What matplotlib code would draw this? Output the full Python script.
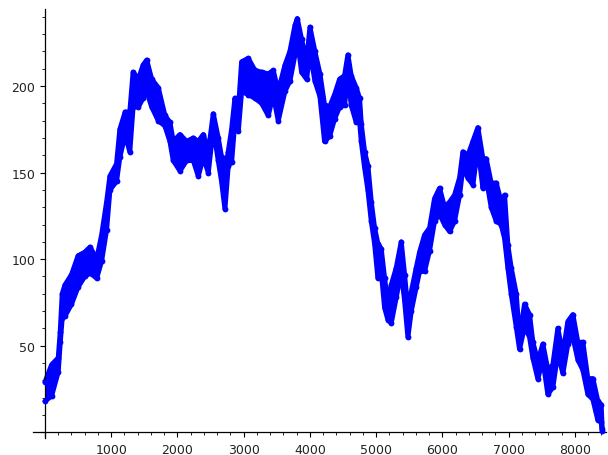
"""Random-walk style point plot, drawn in the look of a Sage list_plot."""

import matplotlib

matplotlib.use("Agg")
import matplotlib.pyplot as plt
import numpy as np
from matplotlib.ticker import MultipleLocator


# step index where the band was read, and its lower / upper edge (point centres)
steps = [
    0, 100, 200, 230, 260, 300, 400, 500, 600, 680, 780, 855, 930, 980,
    1080, 1130, 1210, 1280, 1330, 1410, 1480, 1535, 1610, 1710, 1810, 1886,
    1936, 2037, 2138, 2238, 2314, 2390, 2465, 2540, 2615, 2665, 2716, 2766,
    2817, 2867, 2918, 2968, 3068, 3169, 3270, 3370, 3445, 3521, 3622, 3697,
    3773, 3808, 3873, 3949, 3999, 4074, 4150, 4220, 4296, 4371, 4447, 4522,
    4572, 4622, 4698, 4748, 4774, 4824, 4874, 4925, 4975, 5025, 5075, 5126,
    5176, 5226, 5302, 5377, 5428, 5478, 5528, 5604, 5654, 5729, 5805, 5880,
    5956, 6031, 6107, 6182, 6258, 6308, 6383, 6459, 6534, 6610, 6660, 6735,
    6811, 6886, 6937, 6987, 7037, 7113, 7163, 7238, 7314, 7364, 7439, 7515,
    7590, 7666, 7741, 7817, 7892, 7968, 8043, 8119, 8194, 8270, 8345, 8395,
    8410,
]
band_lo = [
    18, 21, 35, 52, 66, 67, 74, 84, 90, 92, 89, 99, 117, 140,
    145, 159, 172, 162, 188, 188, 193, 197, 188, 180, 177, 168,
    157, 151, 157, 157, 148, 159, 150, 176, 157, 145, 129, 154,
    156, 180, 174, 197, 195, 193, 190, 183, 195, 180, 197, 203,
    218, 228, 208, 204, 220, 203, 194, 168, 171, 181, 188, 189,
    207, 189, 179, 180, 168, 153, 140, 122, 109, 89, 93, 72,
    65, 63, 78, 93, 76, 55, 70, 84, 93, 93, 105, 122,
    126, 120, 116, 122, 137, 153, 147, 143, 165, 141, 147, 130,
    122, 120, 112, 95, 80, 61, 48, 61, 55, 43, 31, 42,
    22, 26, 46, 34, 51, 55, 42, 36, 22, 19, 7, 6,
    1,
]
band_hi = [
    29, 39, 43, 58, 80, 85, 91, 102, 104, 107, 100, 114, 133, 148,
    155, 175, 185, 185, 208, 204, 212, 215, 204, 199, 183, 179,
    168, 172, 168, 170, 168, 172, 162, 184, 170, 159, 150, 162,
    175, 193, 186, 214, 216, 209, 208, 207, 209, 197, 212, 220,
    235, 239, 227, 214, 234, 220, 207, 189, 188, 195, 204, 206,
    218, 206, 199, 193, 178, 162, 154, 133, 118, 109, 106, 89,
    74, 85, 95, 110, 91, 70, 81, 95, 104, 114, 118, 135,
    141, 130, 133, 137, 147, 162, 160, 168, 176, 158, 158, 144,
    144, 133, 137, 108, 95, 80, 54, 74, 68, 52, 41, 51,
    36, 39, 60, 45, 64, 68, 52, 52, 31, 31, 18, 16,
    2,
]

xtick_values = list(range(0, 8001, 1000))
ytick_values = list(range(0, 201, 50))

BLUE = (0.0, 0.0, 1.0)


def main() -> None:
    fig = plt.figure(figsize=(6.08, 4.56), dpi=100)
    ax = fig.add_axes([33 / 608, 17.5 / 456, 573 / 608, 428.5 / 456])

    x = np.asarray(steps, dtype=float)
    lo = np.asarray(band_lo, dtype=float)
    hi = np.asarray(band_hi, dtype=float)

    # solid band between the edges, with round-edged outlines for the dot radius
    ax.fill_between(x, lo, hi, color=BLUE, lw=0, zorder=2)
    ax.plot(x, lo, color=BLUE, lw=3.6, solid_capstyle="round",
            solid_joinstyle="round", zorder=2)
    ax.plot(x, hi, color=BLUE, lw=3.6, solid_capstyle="round",
            solid_joinstyle="round", zorder=2)
    path_x = np.column_stack([x, x]).ravel()
    path_y = np.column_stack([lo, hi]).ravel()
    ax.plot(path_x, path_y, ls="none", marker="o", ms=4.2, mew=0, color=BLUE, zorder=3)

    ax.set_xlim(-181, 8468)
    ax.set_ylim(-3, 244.5)

    for side in ("top", "right"):
        ax.spines[side].set_visible(False)
    ax.spines["left"].set_position(("data", 0))
    ax.spines["bottom"].set_position(("data", 0))
    for side in ("left", "bottom"):
        ax.spines[side].set_linewidth(0.9)

    ax.set_xticks(xtick_values)
    ax.set_xticklabels([""] + [str(v) for v in xtick_values[1:]])
    ax.set_yticks(ytick_values)
    ax.set_yticklabels([""] + [str(v) for v in ytick_values[1:]])
    ax.xaxis.set_minor_locator(MultipleLocator(200))
    ax.yaxis.set_minor_locator(MultipleLocator(10))

    ax.tick_params(which="major", direction="out", length=3.4, width=0.8,
                   labelsize=9, colors="black", labelcolor="#222222")
    ax.tick_params(which="minor", direction="out", length=2.0, width=0.6)
    ax.tick_params(axis="x", which="major", pad=4.5)
    ax.tick_params(axis="y", which="major", pad=3.5)

    fig.savefig("out.png", dpi=100)
    plt.close(fig)


if __name__ == "__main__":
    main()
